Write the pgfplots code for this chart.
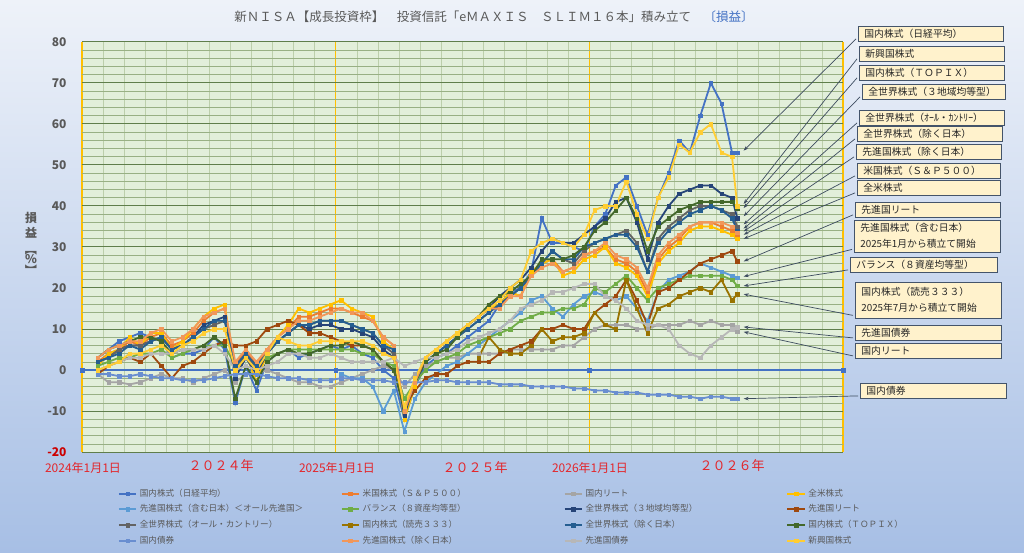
\documentclass[border=0pt]{standalone}
\usepackage{fontspec}
\setmainfont{Noto Sans CJK JP}
\usepackage{pgfplots}
\pgfplotsset{compat=1.18}
\usepackage{pgfplotstable}
\usetikzlibrary{arrows.meta}

\definecolor{c1}{HTML}{4472C4}
\definecolor{c2}{HTML}{ED7D31}
\definecolor{c3}{HTML}{A5A5A5}
\definecolor{c4}{HTML}{FFC000}
\definecolor{c5}{HTML}{5B9BD5}
\definecolor{c6}{HTML}{70AD47}
\definecolor{c7}{HTML}{264478}
\definecolor{c8}{HTML}{9E480E}
\definecolor{c9}{HTML}{636363}
\definecolor{c10}{HTML}{997300}
\definecolor{c11}{HTML}{255E91}
\definecolor{c12}{HTML}{43682B}
\definecolor{c13}{HTML}{698ED0}
\definecolor{c14}{HTML}{F1975A}
\definecolor{c15}{HTML}{B7B7B7}
\definecolor{c16}{HTML}{FFCD33}
\definecolor{bgtop}{HTML}{EEF2F9}
\definecolor{bgbot}{HTML}{A7BFE5}
\definecolor{plotbg}{HTML}{E2EFDA}
\definecolor{gridvx}{HTML}{BCCFAB}
\definecolor{gridmy}{HTML}{5F7E4B}
\definecolor{gridny}{HTML}{98B084}
\definecolor{labgray}{HTML}{595959}
\definecolor{boxfill}{HTML}{FFF2CC}
\definecolor{boxbd}{HTML}{44546A}
\definecolor{redlab}{HTML}{E3262B}

\pgfplotstableread{
m nk sp jr us dw bal w3 fr ac y3 wx tp jb dx fb em
0.75 3 2 -1 1 nan 1 2 -1 2 nan 2 3 -1 3 0 0
1.25 5 4 -3 4 nan 2 3 1 3 nan 3 5 -1 5 1 1
1.75 7 5 -3 5 nan 3 5 2 5 nan 4 6 -1.5 6 2 2
2.25 8 7 -3.5 8 nan 3 6 3 6 nan 6 7 -1.5 7 3 4
2.75 9 6 -3 6 nan 4 6 2 6 nan 5 8 -1 7 3 4
3.25 8 8 -2 9 nan 4 7 4 7 nan 7 8 -1.5 9 4 5
3.75 7 9 -1 9 nan 5 8 1 8 nan 8 7 -2 10 4 6
4.25 3 6 -2 5 nan 3 5 -2 5 nan 5 4 -2 7 4 4
4.75 4 7 -2 7 nan 4 6 1 6 nan 6 5 -2.5 8 5 6
5.25 4 9 -3 10 nan 5 8 2 8 nan 8 5 -2.5 10 5 7
5.75 5 12 -2 13 nan 6 11 4 10 nan 10 6 -2.5 13 5 9
6.25 8 14 -1 15 nan 6 12 6 11 nan 12 8 -2 14 6 10
6.75 5 15 0 16 nan 6 13 7 12 nan 12 6 -1.5 15 4 10
7.25 -8 1 -3 -2 nan 1 -2 6 0 nan 1 -7 -1 2 0 0
7.75 1 5 -1 4 nan 3 3 6 4 nan 4 1 -1 5 1 3
8.25 -5 1 -1 -3 nan 1 -1 7 0 nan 1 -3 -1 2 0 0
8.75 2 5 0 4 nan 3 4 10 4 nan 4 2 -1.5 5 1 4
9.25 4 8 -1 8 nan 4 7 11 7 nan 7 4 -2 8 2 8
9.75 5 10 -2 11 nan 5 9 12 9 nan 9 5 -2 10 4 7
10.25 3 13 -3 15 nan 5 11 11 11 nan 11 4 -2 12 4 6
10.75 4 13 -3 14 nan 5 10 9 11 nan 11 4 -2.5 12 3 6
11.25 5 14 -4 15 nan 5 11 9 12 nan 12 5 -2.5 13 3 7
11.75 6 15 -4 16 nan 5 11 8 12 nan 12 6 -2.5 14 4 7
12.25 5 15 -3 17 -1 5 10 7 12 nan 12 6 -2 15 3 7
12.75 6 14 -2 15 -2 5 10 6 11 nan 11 7 -2 14 2 7
13.25 4 13 -1 14 -2 4 9 6 10 nan 10 6 -2.5 14 2 7
13.75 3 12 0 13 -4 4 8 5 9 nan 9 5 -2.5 12 2 6
14.25 0 8 1 7 -10 2 5 2 6 nan 6 2 -2.5 8 2 4
14.75 -2 6 0 5 -5 1 3 0 4 nan 5 0 -3 6 3 3
15.25 -12 -10 -4 -12 -15 -7 -11 -9 -10 nan -10 -10 -3 -10 1 -9
15.75 -4 -3 -1 -4 -7 -3 -3 -5 -3 nan -3 -3 -3 -3 2 -2
16.25 1 3 1 3 -3 0 2 -2 2 nan 2 2 -3 3 3 3
16.75 3 5 2 5 -1 2 4 -1 4 nan 4 4 -2.5 5 3 5
17.25 4 7 3 7 1 3 6 -1 6 nan 6 5 -2.5 7 4 7
17.75 6 9 3 9 2 4 8 1 8 nan 8 8 -3 9 5 9
18.25 8 11 4 11 4 6 11 2 10 nan 10 11 -3 11 7 11
18.75 10 13 4 13 6 7 13 2 12 3 12 13 -3 13 8 13
19.25 12 15 4 15 8 8 15 2 14 8 14 16 -3 15 9 15
19.75 16 15 4 16 10 9 18 4 16 5 16 18 -3.5 15 10 17
20.25 19 19 5 19 12 10 20 5 18 4 18 19 -3.5 18 12 20
20.75 20 18 5 18 14 12 22 6 20 4 20 21 -3.5 18 15 22
21.25 24 24 5 24 17 13 25 7 23 6 23 23 -4 23 16 29
21.75 37 26 5 26 18 14 29 10 26 10 26 27 -4 25 17 31
22.25 31 27 5 27 15 14 32 10 29 7 29 27 -4 26 19 32
22.75 31 24 6 23 13 15 31 11 27 8 27 27 -4 24 19 31
23.25 30 25 6 24 16 15 31 10 26 8 27 28 -4.5 25 20 30
23.75 29 28 8 27 18 16 33 10 29 9 30 30 -4.5 28 21 33
24.25 35 29 10 28 19 20 35 14 31 14 31 34 -5 29 21 39
24.75 38 30 11 30 18 19 37 16 32 11 32 36 -5 31 18 40
25.25 45 27 11 26 17 21 41 18 33 10 33 39 -5.5 28 17 40
25.75 47 26 11 25 18 23 42 22 34 22 33 42 -5.5 27 15 46
26.25 40 24 10 23 15 20 36 17 31 15 30 37 -5.5 25 12 38
26.75 33 19 10 18 12 17 27 11 24 9 24 29 -6 20 11 32
27.25 42 27 11 26 19 20 36 19 32 15 31 35 -6 28 11 42
27.75 48 30 11 29 22 21 40 20 35 16 34 37 -6 31 10 47
28.25 56 32 11 31 23 22 43 22 37 18 36 39 -6.5 33 6 55
28.75 53 35 12 34 24 23 44 24 39 19 38 40 -6.5 35 4 53
29.25 62 36 11 35 26 23 45 26 40 20 39 41 -7 36 3 58
29.75 70 36 12 35 25 23 45 27 40 19 40 41 -6.5 36 6 60
30.25 65 35 11 34 24 23 43 28 39 22 39 41 -6.5 36 8 53
30.75 53 34 11 33 23 22 42 29 38 17 37 41 -7 35 10 52
31.0 53 33 9.5 32 22.5 20.5 37 26.5 35 18.5 34 39.5 -7 33.5 10.5 40
}\data

\begin{document}
\begin{tikzpicture}[x=1pt,y=1pt]
\shade[top color=bgtop, bottom color=bgbot] (0,0) rectangle (1024,552);
\useasboundingbox (0,0) rectangle (1024,552);

\begin{axis}[
  at={(82pt,100pt)}, anchor=south west, scale only axis,
  width=761pt, height=410pt,
  xmin=0, xmax=36, ymin=-20, ymax=80,
  axis background/.style={fill=plotbg},
  axis line style={draw=none},
  xtick={0,12,24,36}, xticklabels={,,,,}, minor x tick num=11,
  ytick={-20,-10,0,10,20,30,40,50,60,70,80}, minor y tick num=4,
  yticklabels={{\color{red!80!black}-20},-10,0,10,20,30,40,50,60,70,80},
  yticklabel style={font=\bfseries\fontsize{12}{12}\selectfont, text=labgray, anchor=east, xshift=-12pt},
  major tick length=0pt, minor tick length=0pt,
  grid=both,
  major x grid style={draw=c4, line width=1.6pt},
  minor x grid style={draw=gridvx, line width=0.6pt},
  major y grid style={draw=gridmy, line width=1pt},
  minor y grid style={draw=gridny, line width=0.6pt},
  every axis plot/.append style={line width=1.8pt, mark=square*, mark size=1.7pt, mark options={line width=0.3pt}},
  legend columns=4,
  legend cell align=left,
  legend style={at={(0.047,-0.090)}, anchor=north west, draw=none, fill=none,
    inner sep=0pt, font=\fontsize{8.6}{9}\selectfont, text=labgray,
    row sep=6.7pt,
    nodes={text width=192pt, inner xsep=3pt, inner ysep=0pt, text height=7pt, text depth=2pt},
    /tikz/every even column/.append style={column sep=6pt}},
]
\addplot[c1, forget plot, line width=1.5pt] coordinates {(0,0) (12,0) (24,0) (36,0)};
\addplot[c1] table[x=m,y=nk]{\data}; \addlegendentry{国内株式（日経平均）}
\addplot[c2] table[x=m,y=sp]{\data}; \addlegendentry{米国株式（Ｓ＆Ｐ５００）}
\addplot[c3] table[x=m,y=jr]{\data}; \addlegendentry{国内リート}
\addplot[c4] table[x=m,y=us]{\data}; \addlegendentry{全米株式}
\addplot[c5] table[x=m,y=dw]{\data}; \addlegendentry{先進国株式（含む日本）＜オール先進国＞}
\addplot[c6] table[x=m,y=bal]{\data}; \addlegendentry{バランス（８資産均等型）}
\addplot[c7] table[x=m,y=w3]{\data}; \addlegendentry{全世界株式（３地域均等型）}
\addplot[c8] table[x=m,y=fr]{\data}; \addlegendentry{先進国リート}
\addplot[c9] table[x=m,y=ac]{\data}; \addlegendentry{全世界株式（オール・カントリー）}
\addplot[c10] table[x=m,y=y3]{\data}; \addlegendentry{国内株式（読売３３３）}
\addplot[c11] table[x=m,y=wx]{\data}; \addlegendentry{全世界株式（除く日本）}
\addplot[c12] table[x=m,y=tp]{\data}; \addlegendentry{国内株式（ＴＯＰＩＸ）}
\addplot[c13] table[x=m,y=jb]{\data}; \addlegendentry{国内債券}
\addplot[c14] table[x=m,y=dx]{\data}; \addlegendentry{先進国株式（除く日本）}
\addplot[c15] table[x=m,y=fb]{\data}; \addlegendentry{先進国債券}
\addplot[c16] table[x=m,y=em]{\data}; \addlegendentry{新興国株式}

\coordinate (t1) at (axis cs:31.3,53.5);
\coordinate (t2) at (axis cs:31.3,40.5);
\coordinate (t3) at (axis cs:31.3,39.5);
\coordinate (t4) at (axis cs:31.3,37.5);
\coordinate (t5) at (axis cs:31.3,35.5);
\coordinate (t6) at (axis cs:31.3,34.5);
\coordinate (t7) at (axis cs:31.3,33.8);
\coordinate (t8) at (axis cs:31.3,33);
\coordinate (t9) at (axis cs:31.3,32);
\coordinate (t10) at (axis cs:31.3,26.5);
\coordinate (t11) at (axis cs:31.3,22.8);
\coordinate (t12) at (axis cs:31.3,20.5);
\coordinate (t13) at (axis cs:31.3,18.5);
\coordinate (t14) at (axis cs:31.3,10.5);
\coordinate (t15) at (axis cs:31.3,9.3);
\coordinate (t16) at (axis cs:31.3,-7);
\end{axis}

% title
\node[font=\fontsize{12.5}{13}\selectfont, text=labgray] at (494,535)
  {新ＮＩＳＡ【成長投資枠】　投資信託「eＭＡＸＩＳ　ＳＬＩＭ１６本」積み立て　\textcolor{c1}{〔損益〕}};

% y title (stacked vertically)
\begin{scope}[every node/.style={text=labgray, font=\bfseries\fontsize{12}{12}\selectfont, inner sep=0pt}]
\node at (31,334) {損};
\node at (31,319) {益};
\node at (31,302) {\rotatebox[origin=c]{-90}{【}};
\node at (31,293) {\%};
\node at (31,281) {\rotatebox[origin=c]{-90}{】}};
\end{scope}

% x labels
\begin{scope}[every node/.style={text=redlab}]
\node[font=\fontsize{12}{12}\selectfont] at (83,84) {2024年1月1日};
\node[font=\fontsize{13}{13}\selectfont] at (221,86) {２０２４年};
\node[font=\fontsize{12}{12}\selectfont] at (337,84) {2025年1月1日};
\node[font=\fontsize{13}{13}\selectfont] at (475,84) {２０２５年};
\node[font=\fontsize{12}{12}\selectfont] at (590,84) {2026年1月1日};
\node[font=\fontsize{13}{13}\selectfont] at (732,86) {２０２６年};
\end{scope}

% annotation boxes
\tikzset{bx/.style={draw=boxbd, fill=boxfill, line width=0.8pt, anchor=west,
   inner xsep=6pt, inner ysep=0pt, minimum height=15pt, text=black!85,
   font=\fontsize{9.8}{16}\selectfont, text width=#1, align=left},
   bx/.default=133pt,
   ar/.style={draw=boxbd!90!black, line width=0.7pt, -{Stealth[length=5pt,width=3.5pt]}}}
\node[bx] (b1) at (858,518) {国内株式（日経平均）};
\node[bx] (b2) at (859,498) {新興国株式};
\node[bx] (b3) at (859,479) {国内株式（ＴＯＰＩＸ）};
\node[bx=131pt] (b4) at (862,460) {全世界株式（３地域均等型）};
\node[bx] (b5) at (859,434) {全世界株式（ｵｰﾙ・ｶﾝﾄﾘｰ）};
\node[bx] (b6) at (857,418) {全世界株式（除く日本）};
\node[bx] (b7) at (856,400) {先進国株式（除く日本）};
\node[bx=131pt] (b8) at (857,381) {米国株式（Ｓ＆Ｐ５００）};
\node[bx=131pt] (b9) at (857,364) {全米株式};
\node[bx] (b10) at (855,342) {先進国リート};
\node[bx=134pt, minimum height=32pt] (b11) at (854,316) {先進国株式（含む日本）\\2025年1月から積立て開始};
\node[bx=135pt] (b12) at (850,287) {バランス（８資産均等型）};
\node[bx=134pt, minimum height=36pt] (b13) at (855,252) {国内株式（読売３３３）\\2025年7月から積立て開始};
\node[bx=134pt] (b14) at (855,219) {先進国債券};
\node[bx=134pt] (b15) at (855,201) {国内リート};
\node[bx=134pt] (b16) at (860,161) {国内債券};

\foreach \i in {1,...,16} {
  \draw[ar] ([xshift=-2pt,yshift=3pt]b\i.south west) -- (t\i);
}
\end{tikzpicture}
\end{document}
